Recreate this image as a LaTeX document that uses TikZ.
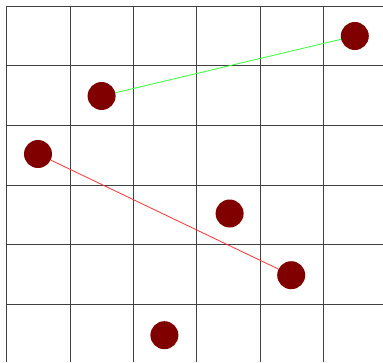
\documentclass[tikz,border=0pt]{standalone}
\begin{document}
\begin{tikzpicture}[x=1pt,y=-1pt,
  gridline/.style={draw=black!75,line width=0.8pt},
  dot/.style={circle,fill=black!50!red,draw=none,minimum size=28pt,inner sep=0pt},
  greenlink/.style={draw=green!80!white,line width=0.8pt},
  redlink/.style={draw=red!80!white,line width=0.8pt}]
\useasboundingbox (0,0) rectangle (383,362);
\foreach \i in {0,...,5}{
  \draw[gridline] ({6.5+63.4*\i},6) -- ({6.5+63.4*\i},362);
  \draw[gridline] (6.5,{6+59.7*\i}) -- (383,{6+59.7*\i});
}
\node[dot] (a) at (101.6,96) {};
\node[dot] (b) at (354.8,36) {};
\node[dot] (c) at (38,154) {};
\node[dot] (d) at (229.6,213.5) {};
\node[dot] (e) at (291.2,275.2) {};
\node[dot] (f) at (164.4,335.2) {};
\begin{scope}[on background layer/.style={}]
\end{scope}
\draw[greenlink] (a) -- (b);
\draw[redlink] (c) -- (e);
\end{tikzpicture}
\end{document}
